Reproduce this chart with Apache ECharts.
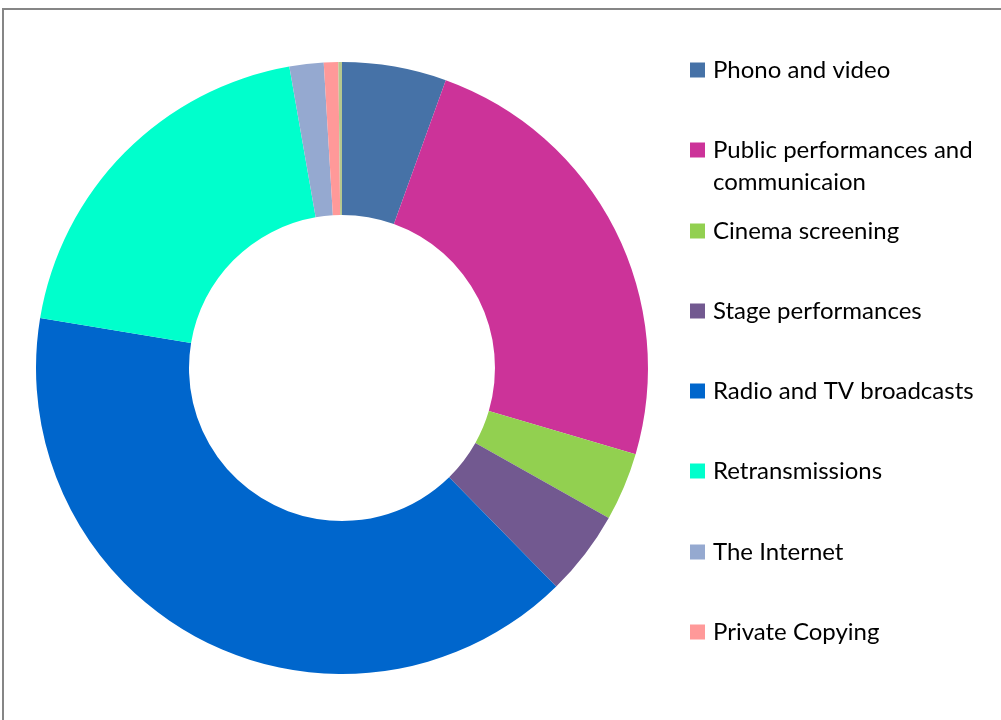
<!DOCTYPE html>
<html>
<head>
<meta charset="utf-8">
<script src="https://cdn.jsdelivr.net/npm/echarts@6/dist/echarts.min.js"></script>
<style>
html,body{margin:0;padding:0;background:#fff;}
#c{width:1001px;height:720px;}
</style>
</head>
<body>
<div id="c"></div>
<script>
const categories = ["Phono and video", "Public performances and\ncommunicaion", "Cinema screening", "Stage performances", "Radio and TV broadcasts", "Retransmissions", "The Internet", "Private Copying", "Other"];
const values = [5.5, 24.0, 3.6, 4.5, 39.9, 19.6, 1.8, 0.76, 0.19];
const colors = ["#4672A7", "#CC3399", "#92D050", "#725990", "#0066CC", "#00FFCC", "#95A9D0", "#FF9999", "#B5C78E"];
const legendNames = categories.slice(0, 8);
const legendCenters = [70, 150, 231, 311, 391, 471, 552, 632];

const chart = echarts.init(document.getElementById('c'));
const FONT = 'Lato';
const legends = legendNames.map((n, i) => {
  const multi = n.indexOf('\n') >= 0;
  const lh = 32;
  return {
    data: [n],
    orient: 'vertical',
    left: 690,
    top: legendCenters[i] - (multi ? 1.5 * lh : lh / 2),
    icon: 'rect',
    itemWidth: 15,
    itemHeight: 15,
    itemGap: 0,
    padding: 0,
    selectedMode: false,
    formatter: multi ? (name) => '\n' + name : undefined,
    textStyle: { fontFamily: FONT, fontSize: 24, color: '#000', lineHeight: lh, padding: [0, 0, 0, 3] }
  };
});

chart.setOption({
  animation: false,
  color: colors,
  graphic: [{
    type: 'rect',
    shape: { x: 3, y: 9, width: 1100, height: 800 },
    style: { fill: 'none', stroke: '#868686', lineWidth: 2 }
  }],
  legend: legends,
  series: [{
    type: 'pie',
    center: [342, 368],
    radius: [153, 306],
    startAngle: 90,
    clockwise: true,
    label: { show: false },
    labelLine: { show: false },
    itemStyle: { borderWidth: 0 },
    emphasis: { disabled: true },
    data: categories.map((c, i) => ({ name: c, value: values[i] }))
  }]
});
</script>
</body>
</html>
